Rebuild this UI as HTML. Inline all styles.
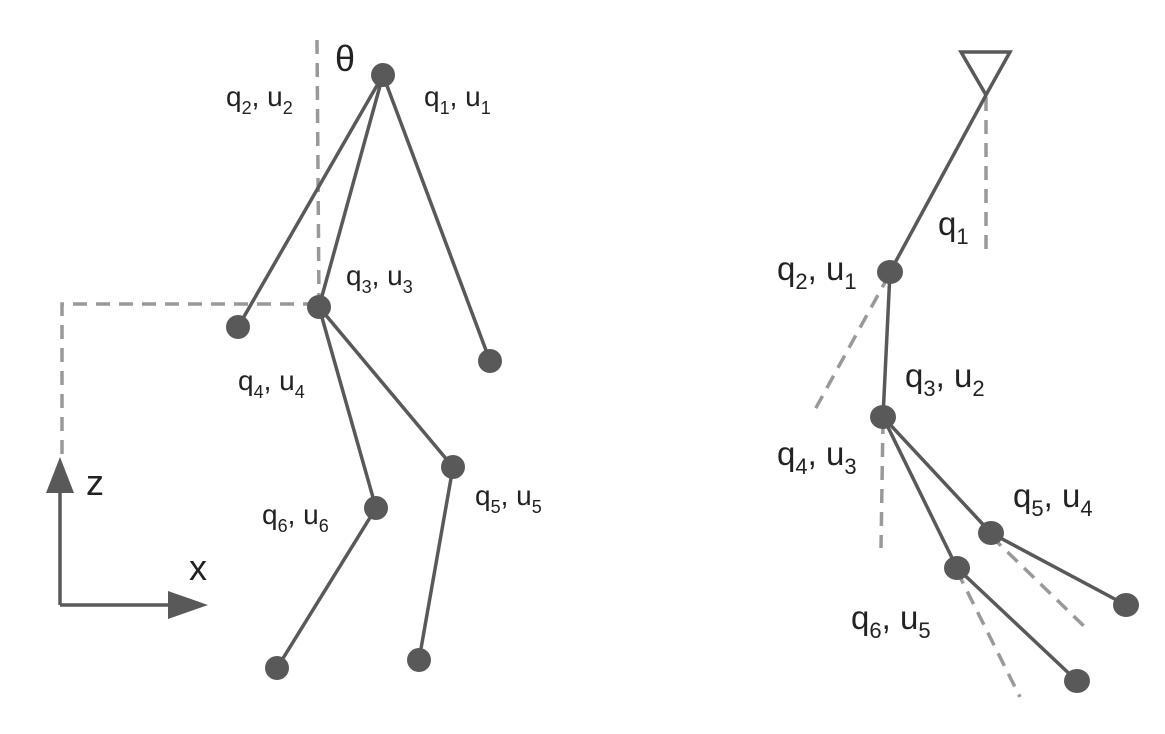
<!DOCTYPE html>
<html><head><style>
body{margin:0;background:#fff;}
svg{display:block;}
text{font-family:"Liberation Sans",sans-serif;fill:#222;}
</style></head><body>
<svg width="1165" height="734" viewBox="0 0 1165 734">
<g stroke="#999" stroke-width="3.5" stroke-dasharray="14,9" fill="none">
<line x1="317" y1="40" x2="319" y2="304"/>
<polyline points="317,304 62,304 62,460"/>
<line x1="986" y1="97" x2="986" y2="252"/>
<line x1="889" y1="275" x2="812" y2="415"/>
<line x1="883" y1="420" x2="881" y2="548"/>
<line x1="991" y1="536" x2="1090" y2="632"/>
<line x1="957" y1="571" x2="1020" y2="697"/>
</g>
<g stroke="#595959" stroke-width="3.5" fill="none">
<line x1="383" y1="75" x2="238" y2="327"/>
<line x1="383" y1="75" x2="319" y2="307"/>
<line x1="383" y1="75" x2="490" y2="361"/>
<line x1="319" y1="307" x2="376" y2="508"/>
<line x1="319" y1="307" x2="453" y2="467"/>
<line x1="376" y1="508" x2="277" y2="668"/>
<line x1="453" y1="467" x2="419" y2="660"/>
<line x1="60" y1="605" x2="60" y2="490"/>
<line x1="60" y1="605" x2="172" y2="605"/>
<polygon points="961,52 1010,52 986,95"/>
<line x1="986" y1="95" x2="890" y2="272"/>
<line x1="890" y1="272" x2="883" y2="417"/>
<line x1="883" y1="417" x2="991" y2="533"/>
<line x1="883" y1="417" x2="957" y2="568"/>
<line x1="991" y1="533" x2="1126" y2="605"/>
<line x1="957" y1="568" x2="1077" y2="681"/>
</g>
<g fill="#595959">
<polygon points="60,457 46,493 74,493"/>
<polygon points="208,605 168,591 168,619"/>
<circle cx="383" cy="75" r="12"/>
<circle cx="238" cy="327" r="12"/>
<circle cx="319" cy="307" r="12"/>
<circle cx="490" cy="361" r="12"/>
<circle cx="376" cy="508" r="12"/>
<circle cx="453" cy="467" r="12"/>
<circle cx="277" cy="668" r="12"/>
<circle cx="419" cy="660" r="12"/>
<ellipse cx="890" cy="272" rx="13" ry="12"/>
<ellipse cx="883" cy="417" rx="13" ry="12"/>
<ellipse cx="991" cy="533" rx="13" ry="12"/>
<ellipse cx="957" cy="568" rx="13" ry="12"/>
<ellipse cx="1126" cy="605" rx="13" ry="12"/>
<ellipse cx="1077" cy="681" rx="13" ry="12"/>
</g>
<g font-size="28">
<text x="226" y="106">q<tspan font-size="18" dy="8">2</tspan><tspan dy="-8">, u</tspan><tspan font-size="18" dy="8">2</tspan></text>
<text x="424" y="106">q<tspan font-size="18" dy="8">1</tspan><tspan dy="-8">, u</tspan><tspan font-size="18" dy="8">1</tspan></text>
<text x="346" y="285">q<tspan font-size="18" dy="8">3</tspan><tspan dy="-8">, u</tspan><tspan font-size="18" dy="8">3</tspan></text>
<text x="238" y="390">q<tspan font-size="18" dy="8">4</tspan><tspan dy="-8">, u</tspan><tspan font-size="18" dy="8">4</tspan></text>
<text x="262" y="524">q<tspan font-size="18" dy="8">6</tspan><tspan dy="-8">, u</tspan><tspan font-size="18" dy="8">6</tspan></text>
<text x="475" y="505">q<tspan font-size="18" dy="8">5</tspan><tspan dy="-8">, u</tspan><tspan font-size="18" dy="8">5</tspan></text>
</g>
<g font-size="36">
<text x="335" y="71">θ</text>
<text x="86" y="495">z</text>
<text x="189" y="580">x</text>
</g>
<g font-size="33">
<text x="938" y="235">q<tspan font-size="22" dy="9">1</tspan></text>
<text x="777" y="280">q<tspan font-size="22" dy="9">2</tspan><tspan dy="-9">,  u</tspan><tspan font-size="22" dy="9">1</tspan></text>
<text x="905" y="387">q<tspan font-size="22" dy="9">3</tspan><tspan dy="-9">,  u</tspan><tspan font-size="22" dy="9">2</tspan></text>
<text x="777" y="465">q<tspan font-size="22" dy="9">4</tspan><tspan dy="-9">,  u</tspan><tspan font-size="22" dy="9">3</tspan></text>
<text x="1013" y="507">q<tspan font-size="22" dy="9">5</tspan><tspan dy="-9">,  u</tspan><tspan font-size="22" dy="9">4</tspan></text>
<text x="851" y="629">q<tspan font-size="22" dy="9">6</tspan><tspan dy="-9">,  u</tspan><tspan font-size="22" dy="9">5</tspan></text>
</g>
</svg>
</body></html>
